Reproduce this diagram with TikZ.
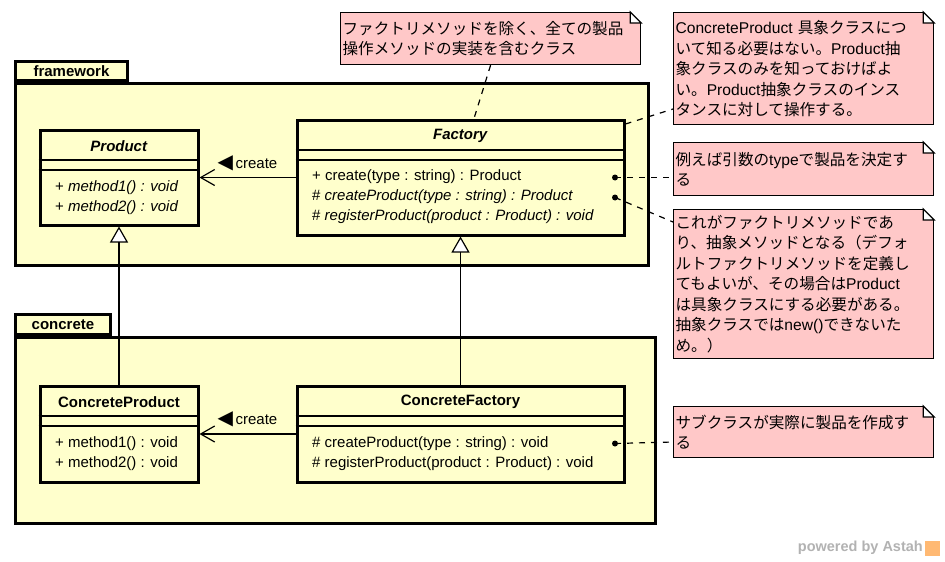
\documentclass[tikz,border=0pt]{standalone}
\usepackage{fontspec}
\setmainfont{Liberation Sans}
\newfontfamily\jpfont{Noto Sans CJK JP}
\newfontfamily\symfont{DejaVu Sans}
\usetikzlibrary{arrows.meta, positioning}
\definecolor{umlyellow}{HTML}{FFFFCC}
\definecolor{notepink}{HTML}{FFC8C8}
\newcommand{\eng}[1]{{\rmfamily #1}}
\newcommand{\dogear}[1]{%
  \fill[white] ([xshift=-11pt,yshift=2pt]#1.north east) rectangle ([xshift=2pt,yshift=-11pt]#1.north east);
  \draw[line width=1.2pt] ([xshift=-11pt]#1.north east) -- ([xshift=-11pt,yshift=-11pt]#1.north east) -- ([yshift=-11pt]#1.north east) -- cycle;}

\begin{document}
\begin{tikzpicture}[x=1pt, y=-1pt, font=\fontsize{15}{20}\selectfont,
  pkg/.style={draw=black, fill=umlyellow, line width=3pt, inner sep=0pt, anchor=north west},
  pkgtab/.style={pkg, anchor=south west, font=\fontsize{15}{20}\selectfont\bfseries},
  cls/.style={draw=black, fill=umlyellow, line width=3pt, inner sep=0pt},
  cname/.style={font=\fontsize{15}{20}\selectfont\bfseries, inner sep=0pt},
  meth/.style={anchor=west, inner sep=0pt},
  divider/.style={line width=1.5pt},
  dep/.style={line width=1.2pt, -{Straight Barb[length=14pt, width=16pt]}},
  gen/.style={line width=1.2pt, -{Triangle[fill=white, length=16pt, width=18pt]}},
  memo/.style={draw=black, fill=notepink, line width=1.2pt, anchor=north west, inner xsep=2pt, inner ysep=0pt,
    align=left, font=\jpfont\fontsize{15.6}{20.5}\selectfont},
  notelink/.style={line width=1.2pt, dash pattern=on 6pt off 6pt}]
\fill[white] (0,0) rectangle (945,562);
\useasboundingbox (0,0) rectangle (945,562);
% packages
\node[pkg, minimum width=633pt, minimum height=182pt] (fw) at (14,82) {};
\node[pkgtab, minimum width=112pt, minimum height=19pt] (fwtab) at (fw.north west) {framework};
\node[pkg, minimum width=640pt, minimum height=186pt] (con) at (14,336) {};
\node[pkgtab, minimum width=95pt, minimum height=20pt] (contab) at (con.north west) {concrete};
% classes
\node[cls, minimum width=158pt, minimum height=95pt]  (prod)  at (119,177.5) {};
\node[cls, minimum width=327pt, minimum height=115pt] (fac)   at (460.5,177.5) {};
\node[cls, minimum width=158pt, minimum height=96pt]  (cprod) at (119,434) {};
\node[cls, minimum width=327pt, minimum height=96pt]  (cfac)  at (460.5,434) {};
\foreach \c/\a/\b in {prod/160/170, fac/150/160, cprod/416/426, cfac/416/426} {
  \draw[divider] (\c.west |- 0,\a) -- (\c.east |- 0,\a);
  \draw[divider] (\c.west |- 0,\b) -- (\c.east |- 0,\b);
}
\node[cname] (prodname)  at (prod.north |- 0,146)  {\textit{Product}};
\node[cname] (facname)   at (fac.north |- 0,136)   {\textit{Factory}};
\node[cname] (cprodname) at (cprod.north |- 0,402) {ConcreteProduct};
\node[cname] (cfacname)  at (cfac.north |- 0,402)  {ConcreteFactory};
\node[meth] (pm1) at (55,188) {+ \textit{method1() : void}};
\node[meth] (pm2) at (55,208) {+ \textit{method2() : void}};
\node[meth] (fm1) at (312,177) {+ create(type : string) : Product};
\node[meth] (fm2) at (312,197) {\# \textit{createProduct(type : string) : Product}};
\node[meth] (fm3) at (312,217) {\# \textit{registerProduct(product : Product) : void}};
\node[meth] (cpm1) at (55,444) {+ method1() : void};
\node[meth] (cpm2) at (55,464) {+ method2() : void};
\node[meth] (cfm1) at (312,444) {\# createProduct(type : string) : void};
\node[meth] (cfm2) at (312,464) {\# registerProduct(product : Product) : void};
% relations
\draw[dep] (fac) -- node[above=6pt, inner sep=0pt] {{\symfont\fontsize{20}{20}\selectfont ◀}\,create} (prod);
\draw[dep] (cfac) -- node[above=6pt, inner sep=0pt] {{\symfont\fontsize{20}{20}\selectfont ◀}\,create} (cprod);
\draw[gen] (cprod) -- (prod);
\draw[gen] (cfac) -- (fac);
% notes
\node[memo, minimum width=300pt, minimum height=52pt, text width=296pt] (memo1) at (340,12)
  {ファクトリメソッドを除く、全ての製品\\操作メソッドの実装を含むクラス};
\node[memo, minimum width=260pt, minimum height=112pt, text width=256pt] (memo2) at (673,12)
  {\eng{ConcreteProduct} 具象クラスにつ\\いて知る必要はない。\eng{Product}抽\\象クラスのみを知っておけばよ\\い。\eng{Product}抽象クラスのインス\\タンスに対して操作する。};
\node[memo, minimum width=260pt, minimum height=53pt, text width=256pt] (memo3) at (673,142)
  {例えば引数の\eng{type}で製品を決定す\\る};
\node[memo, minimum width=260pt, minimum height=149pt, text width=256pt] (memo4) at (673,209)
  {これがファクトリメソッドであ\\り、抽象メソッドとなる（デフォ\\ルトファクトリメソッドを定義し\\てもよいが、その場合は\eng{Product}\\は具象クラスにする必要がある。\\抽象クラスでは\eng{new()}できないた\\め。）};
\node[memo, minimum width=260pt, minimum height=51pt, text width=256pt] (memo5) at (673,406)
  {サブクラスが実際に製品を作成す\\る};
\foreach \m in {memo1,memo2,memo3,memo4,memo5} \dogear{\m}
\coordinate (dot1) at (615,177.5);
\coordinate (dot2) at (615,197.5);
\coordinate (dot3) at (615,443.5);
\foreach \d in {dot1,dot2,dot3} \fill (\d) circle[radius=3pt];
\draw[notelink] (memo1.south) -- (fac.north -| 474,0);
\draw[notelink] (fac.east |- 0,124) -- (memo2.west |- 0,109);
\draw[notelink] (dot1) -- (memo3.west |- dot1);
\draw[notelink] (dot2) -- (memo4.west |- 0,222);
\draw[notelink] (dot3) -- (memo5.west |- 0,442);
% watermark
\node[font=\fontsize{14.5}{15}\selectfont\bfseries, text=black!30, anchor=east, inner sep=0pt] (brand) at (923,548) {powered by Astah};
\node[fill=orange!55, minimum size=15pt, inner sep=0pt, right=2pt of brand] (logo) {};
\end{tikzpicture}
\end{document}
